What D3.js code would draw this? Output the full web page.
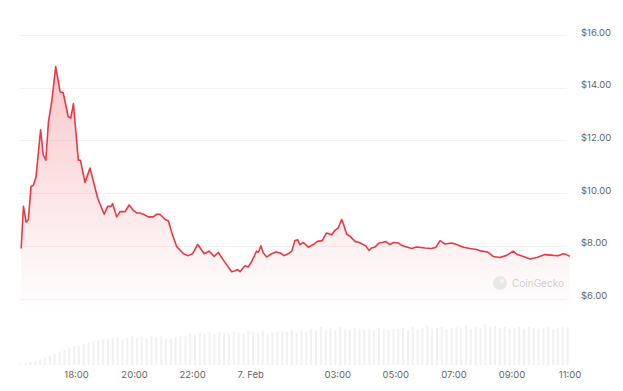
<!DOCTYPE html>
<html>
<head>
<meta charset="utf-8">
<script src="https://cdn.jsdelivr.net/npm/d3@7"></script>
<style>
  html, body { margin: 0; padding: 0; background: #ffffff; }
  svg { display: block; font-family: "Inter", "Open Sans", sans-serif; }
</style>
</head>
<body>
<svg id="chart" width="623" height="391"></svg>
<script>
// ---- data (hours after 6 Feb 00:00 UTC, price in USD) ----
const hours = [16.11,16.19,16.28,16.36,16.45,16.53,16.62,16.78,16.87,16.96,17.05,17.16,17.30,17.45,17.56,17.73,17.82,17.91,18.08,18.15,18.31,18.48,18.75,18.97,19.09,19.21,19.26,19.40,19.52,19.69,19.83,19.97,20.09,20.20,20.32,20.49,20.66,20.78,20.89,21.07,21.18,21.30,21.47,21.70,21.87,22.01,22.19,22.42,22.58,22.76,22.90,23.07,23.36,23.48,23.57,23.65,23.82,23.93,24.05,24.22,24.28,24.37,24.45,24.57,24.74,24.88,25.03,25.17,25.31,25.43,25.54,25.64,25.71,25.83,26.00,26.17,26.32,26.48,26.63,26.81,26.92,27.03,27.15,27.21,27.32,27.44,27.61,27.75,27.84,27.98,28.09,28.18,28.30,28.44,28.55,28.67,28.81,28.93,29.10,29.22,29.33,29.56,29.73,30.02,30.25,30.40,30.54,30.71,30.94,31.11,31.34,31.57,31.80,31.97,32.17,32.37,32.60,32.83,33.06,33.20,33.41,33.64,33.87,34.15,34.44,34.61,34.78,34.90,35.01];
const prices = [7.9,9.5,8.9,9.0,10.25,10.3,10.6,12.4,11.45,11.25,12.7,13.45,14.8,13.85,13.8,12.9,12.85,13.4,11.25,11.25,10.4,10.95,9.8,9.2,9.5,9.5,9.6,9.1,9.3,9.3,9.55,9.35,9.25,9.25,9.2,9.1,9.1,9.2,9.2,9.0,8.95,8.5,7.97,7.7,7.63,7.7,8.05,7.7,7.8,7.6,7.75,7.47,7.02,7.06,7.1,7.02,7.25,7.2,7.4,7.8,7.76,8.0,7.73,7.58,7.7,7.77,7.73,7.63,7.7,7.8,8.2,8.23,8.05,8.13,7.95,8.05,8.17,8.2,8.49,8.42,8.59,8.68,9.0,8.84,8.45,8.36,8.17,8.13,8.08,8.0,7.83,7.92,7.96,8.11,8.13,8.17,8.05,8.13,8.11,8.02,7.98,7.9,7.96,7.92,7.9,7.95,8.2,8.07,8.11,8.05,7.95,7.9,7.86,7.8,7.77,7.6,7.56,7.64,7.8,7.67,7.6,7.5,7.56,7.67,7.64,7.63,7.7,7.67,7.6];
// volume bars, one per 10 minutes (relative units)
const volumeStartHour = 16.1;
const volumes = [1,2,3,4,6,8, 10,12,14,16,18,20, 21,22,24,25,26,27, 27,28,29,27,29,30, 29,30,28,31,29,30, 28,27,29,31,30,33, 32,34,33,34,33,35, 34,33,35,34,33,36, 35,33,36,32,34,35, 36,35,37,34,36,35, 38,36,40,37,39,36, 40,38,37,39,38,37, 38,37,39,38,37,38, 38,39,37,40,38,39, 41,38,39,40,38,39, 40,39,42,38,40,39, 43,40,41,39,40,38, 39,40,38,40,39,38, 39,40,38,39,40,39];
const yTicks = [6, 8, 10, 12, 14, 16];
const xTickHours = [18, 20, 22, 24, 27, 29, 31, 33, 35];

// ---- setup ----
const base = Date.UTC(2024, 1, 6);
const toDate = h => new Date(base + h * 3600e3);
const svg = d3.select("#chart");
const left = 20, right = 571, plotRight = 567;

const x = d3.scaleUtc().domain([toDate(16.07), toDate(35.05)]).range([left, right]);
const y = d3.scaleLinear().domain([6, 16]).range([298.6, 35]);
const yVol = d3.scaleLinear().domain([0, 42]).range([365, 325]);

const data = hours.map((h, i) => ({ t: toDate(h), v: prices[i] }));

// gradient
const defs = svg.append("defs");
const grad = defs.append("linearGradient")
  .attr("id", "areaGrad").attr("gradientUnits", "userSpaceOnUse")
  .attr("x1", 0).attr("x2", 0).attr("y1", y(14.8)).attr("y2", y(5.6));
grad.append("stop").attr("offset", 0).attr("stop-color", "#ea3943").attr("stop-opacity", 0.28);
grad.append("stop").attr("offset", 1).attr("stop-color", "#ea3943").attr("stop-opacity", 0);

// gridlines
svg.append("g").selectAll("line").data(yTicks).join("line")
  .attr("x1", left).attr("x2", plotRight)
  .attr("y1", d => Math.round(y(d)) + 0.5).attr("y2", d => Math.round(y(d)) + 0.5)
  .attr("stroke", "#f2f2f2").attr("stroke-width", 1);

// volume bars
const volData = volumes.map((v, i) => ({ t: toDate(volumeStartHour + i / 6), v }));
svg.append("g").selectAll("rect").data(volData).join("rect")
  .attr("x", d => x(d.t) - 1)
  .attr("width", 2)
  .attr("y", d => yVol(d.v))
  .attr("height", d => yVol(0) - yVol(d.v))
  .attr("fill", "#f1f1f1");

// area
const area = d3.area().x(d => x(d.t)).y0(y(5.6)).y1(d => y(d.v)).curve(d3.curveLinear);
svg.append("path").datum(data).attr("d", area).attr("fill", "url(#areaGrad)");

// watermark
const wm = svg.append("g");
wm.append("circle").attr("cx", 500).attr("cy", 283).attr("r", 7).attr("fill", "#e8e8e8");
wm.append("circle").attr("cx", 502).attr("cy", 281).attr("r", 2).attr("fill", "#f6f6f6");
wm.append("text").attr("x", 512).attr("y", 287).text("CoinGecko")
  .attr("font-size", 10).attr("fill", "#d0d0d0");

// line
const line = d3.line().x(d => x(d.t)).y(d => y(d.v)).curve(d3.curveLinear);
svg.append("path").datum(data).attr("d", line)
  .attr("fill", "none").attr("stroke", "#ea3943").attr("stroke-width", 1.6)
  .attr("stroke-linejoin", "round");

// y axis labels
const yAxis = d3.axisRight(y).tickValues(yTicks).tickSize(0).tickPadding(0)
  .tickFormat(d => "$" + d3.format(".2f")(d));
const gy = svg.append("g").attr("transform", "translate(581,-3)").call(yAxis);
gy.select(".domain").remove();
gy.selectAll("text").attr("font-size", 9.5).attr("fill", "#666").attr("font-family", "Inter, sans-serif");

// x axis labels
const xAxis = d3.axisBottom(x).tickValues(xTickHours.map(toDate)).tickSize(0).tickPadding(0)
  .tickFormat(d => d.getUTCHours() === 0 ? "7. Feb" : d3.utcFormat("%H:%M")(d));
const gx = svg.append("g").attr("transform", "translate(0,371)").call(xAxis);
gx.select(".domain").remove();
gx.selectAll("text").attr("font-size", 9.5).attr("fill", "#666").attr("font-family", "Inter, sans-serif");
</script>
</body>
</html>
